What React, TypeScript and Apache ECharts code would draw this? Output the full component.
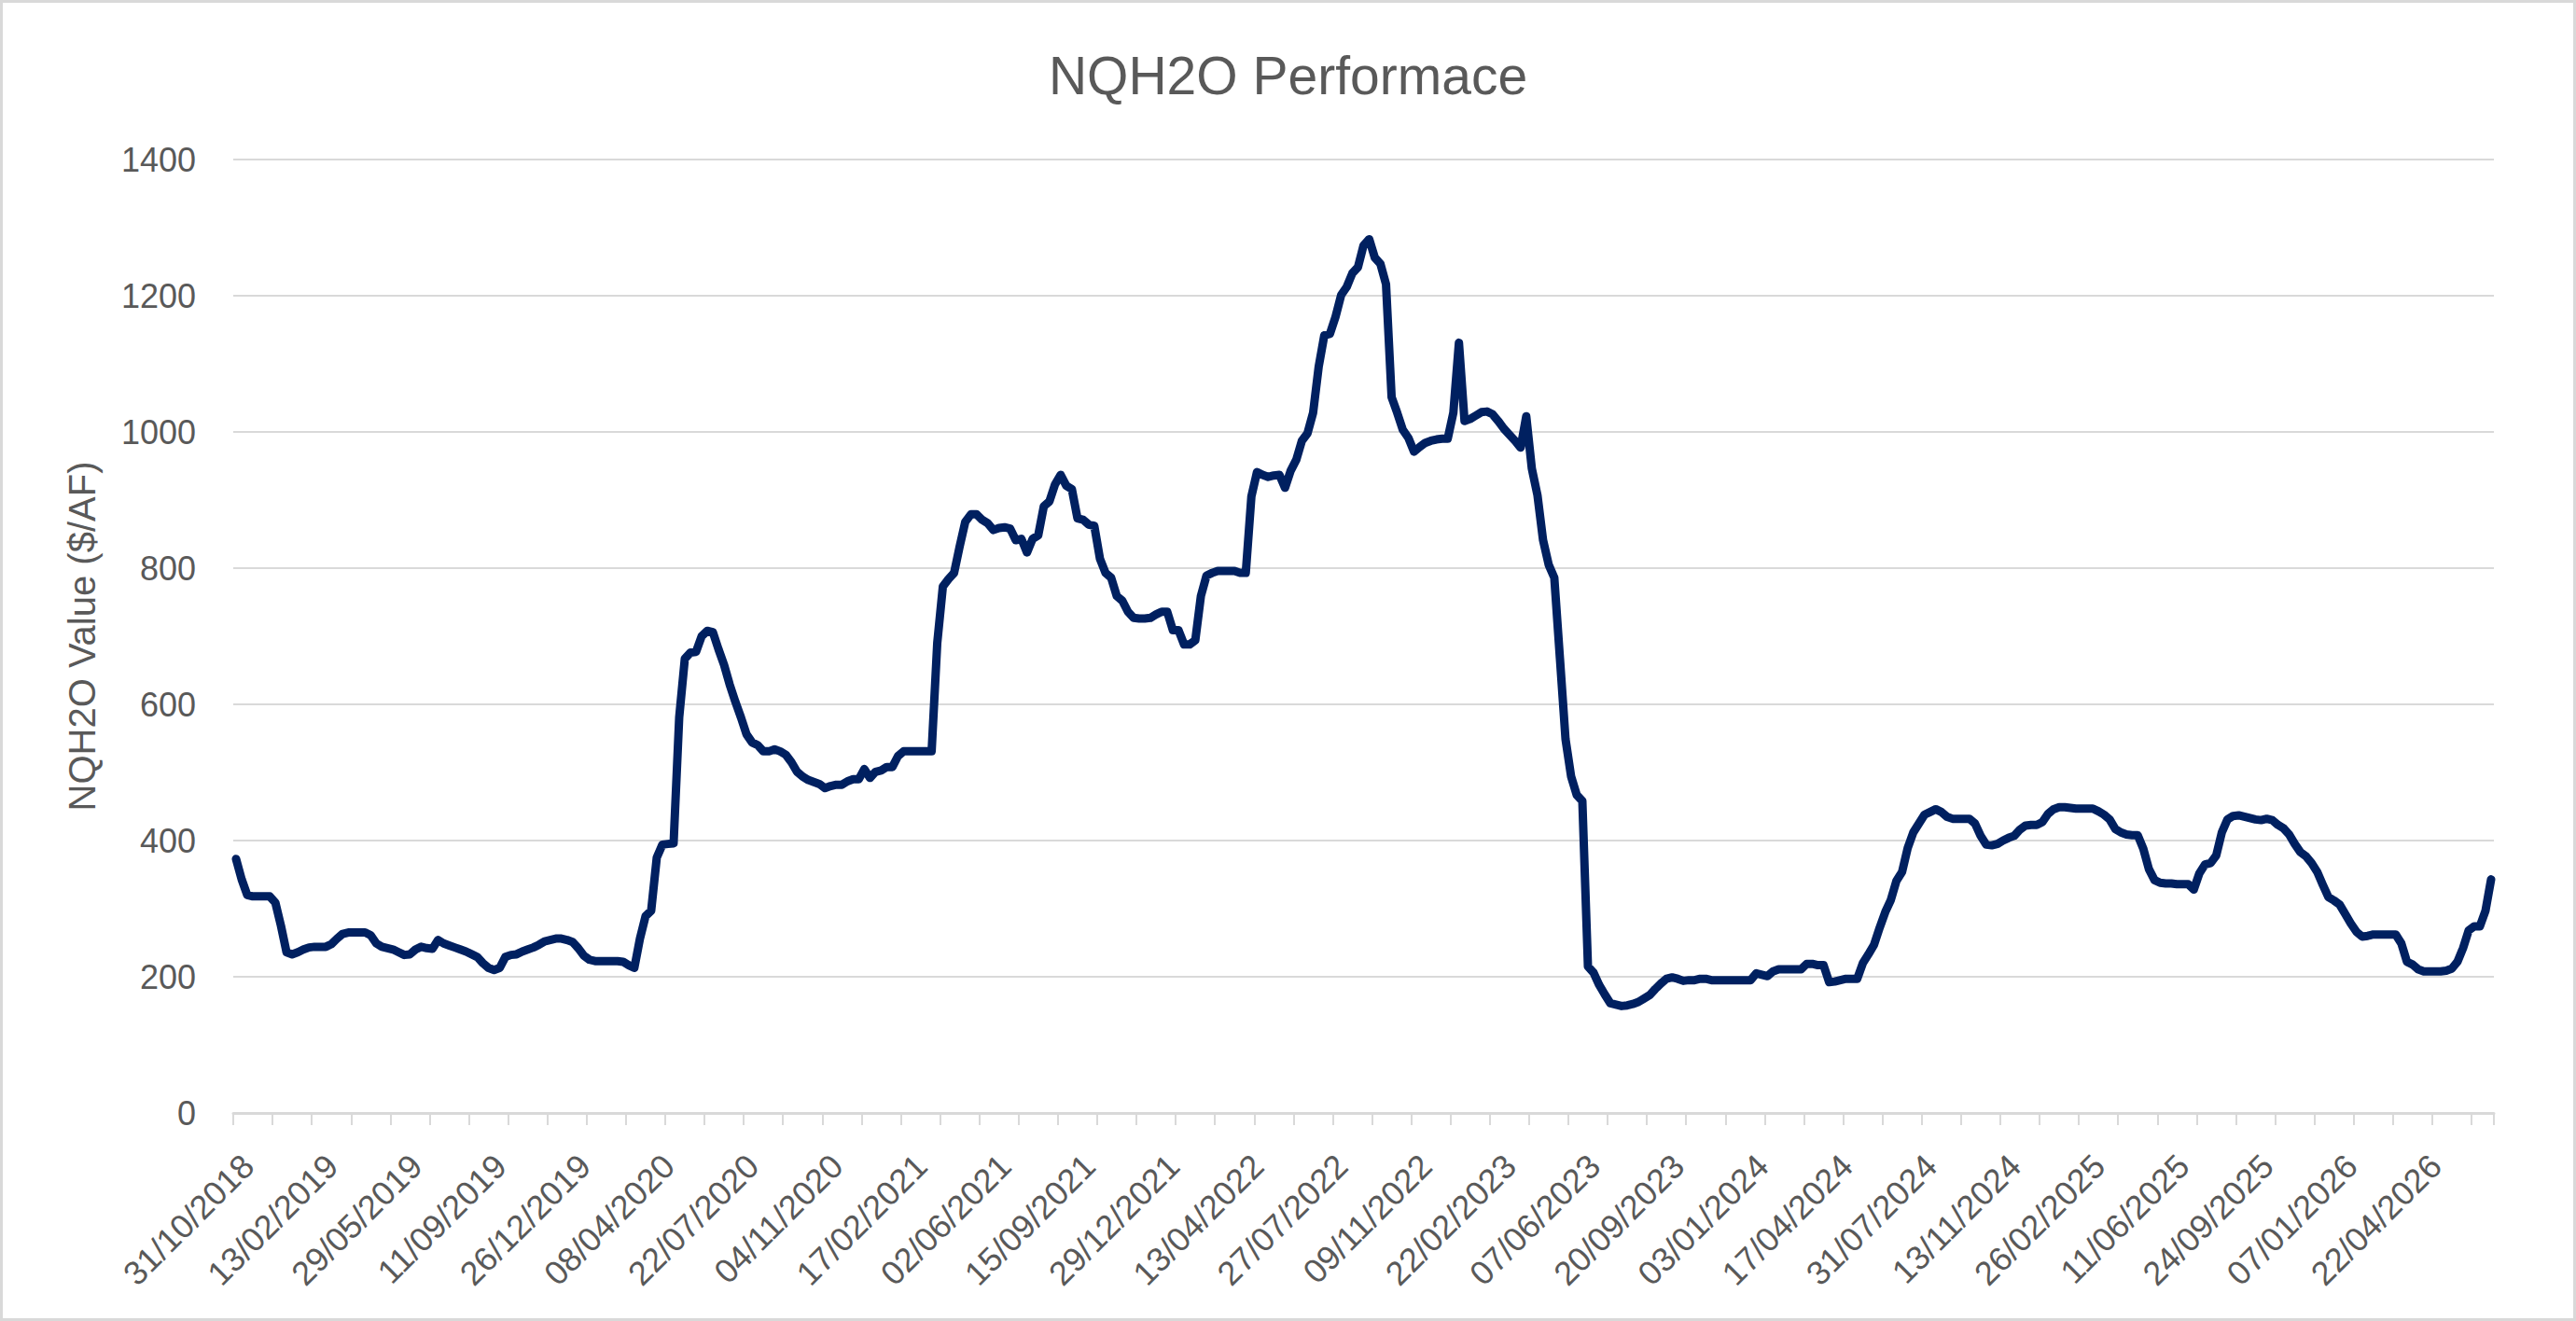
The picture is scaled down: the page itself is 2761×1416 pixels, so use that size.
import { useEffect, useRef } from "react";
import * as echarts from "echarts";

// ---- text ----
const TITLE = "NQH2O Performace";
const Y_NAME = "NQH2O Value ($/AF)";

// ---- category axis: weekly dates starting 31/10/2018 ----
const START_YEAR = 2018;
const START_MONTH = 10; // October
const START_DAY = 31;
const WEEK_COUNT = 403;
const LABEL_EVERY = 15; // one date label every 15 weeks
const TICK_EVERY = 7; // one tick mark every 7 weeks

// ---- value axis ----
const Y_MIN = 0;
const Y_MAX = 1400;
const Y_STEP = 200;

// ---- series values ($/AF), one per week ----
const values2018_2019 = [
  373, 343, 320, 318, 318, 318, 318, 309, 275, 236,
  233, 236, 240, 243, 244, 244, 244, 248, 256, 263,
  265, 265, 265, 265, 261, 249, 244, 242, 240, 236,
  232, 233, 240, 244, 242, 241, 254, 249, 246, 243,
  240, 237, 233, 229, 220, 213, 210, 213, 229, 232,
];
const values2019_2020 = [
  233, 237, 240, 243, 247, 252, 254, 256, 256, 254,
  251, 242, 231, 225, 223, 223, 223, 223, 223, 222,
  217, 213, 256, 289, 297, 375, 394, 395, 396, 581,
  667, 676, 677, 700, 708, 706, 681, 658, 629, 604,
  581, 556, 544, 540, 531, 531, 534, 531, 526, 515,
];
const values2020_2021 = [
  501, 494, 489, 486, 483, 477, 480, 482, 482, 487,
  490, 490, 505, 492, 501, 503, 508, 508, 524, 531,
  531, 531, 531, 531, 531, 690, 773, 784, 793, 832,
  868, 879, 879, 871, 866, 856, 859, 860, 858, 841,
  843, 823, 843, 848, 891, 898, 923, 937, 921, 916,
];
const values2021_2022 = [
  873, 871, 864, 862, 814, 793, 786, 759, 752, 736,
  727, 726, 726, 727, 732, 736, 736, 709, 709, 688,
  688, 694, 759, 789, 793, 796, 796, 796, 796, 793,
  793, 905, 941, 937, 934, 936, 937, 918, 943, 959,
  987, 998, 1028, 1096, 1142, 1144, 1169, 1201, 1213, 1233,
];
const values2022_2023 = [
  1242, 1274, 1283, 1256, 1247, 1217, 1051, 1028, 1003, 991,
  971, 978, 984, 987, 989, 990, 990, 1028, 1131, 1016,
  1019, 1024, 1029, 1030, 1026, 1016, 1005, 996, 987, 977,
  1023, 946, 907, 841, 805, 786, 668, 549, 494, 467,
  458, 215, 206, 188, 174, 161, 159, 157, 158, 160,
];
const values2023_2024 = [
  163, 168, 173, 182, 190, 197, 199, 197, 194, 195,
  195, 197, 197, 195, 195, 195, 195, 195, 195, 195,
  195, 205, 203, 201, 208, 211, 211, 211, 211, 211,
  219, 219, 217, 217, 192, 193, 195, 197, 197, 197,
  220, 233, 247, 272, 295, 313, 341, 354, 389, 412,
];
const values2024_2025 = [
  425, 438, 442, 446, 442, 435, 432, 432, 432, 432,
  425, 407, 394, 393, 395, 400, 404, 407, 416, 422,
  423, 423, 427, 439, 446, 449, 449, 448, 447, 447,
  447, 447, 443, 438, 431, 417, 412, 409, 408, 408,
  388, 358, 342, 338, 337, 337, 336, 336, 336, 328,
];
const values2025_2026 = [
  352, 365, 367, 378, 412, 431, 436, 437, 435, 433,
  431, 430, 432, 430, 423, 418, 409, 395, 383, 377,
  367, 354, 335, 317, 312, 306, 292, 278, 266, 259,
  260, 262, 262, 262, 262, 262, 249, 222, 218, 211,
  208, 208, 208, 208, 209, 212, 222, 242, 268, 274,
  274, 297, 343,
];

const VALUES = [
  ...values2018_2019,
  ...values2019_2020,
  ...values2020_2021,
  ...values2021_2022,
  ...values2022_2023,
  ...values2023_2024,
  ...values2024_2025,
  ...values2025_2026,
];

// ---- styling ----
const FONT = "'Liberation Sans', Arial, sans-serif";
const TEXT_COLOR = "#595959";
const GRID_COLOR = "#d9d9d9";
const LINE_COLOR = "#002060";

const pad = (n: number) => (n < 10 ? "0" + n : String(n));

function buildDates(): string[] {
  const out: string[] = [];
  const t0 = Date.UTC(START_YEAR, START_MONTH - 1, START_DAY);
  for (let i = 0; i < WEEK_COUNT; i++) {
    const d = new Date(t0 + i * 7 * 86400000);
    let day = d.getUTCDate();
    const month = d.getUTCMonth() + 1;
    // Christmas-day publications are shifted to the following day
    if (day === 25 && month === 12) day = 26;
    out.push(pad(day) + "/" + pad(month) + "/" + d.getUTCFullYear());
  }
  return out;
}

const W = 2761;
const H = 1416;

export default function App() {
  const ref = useRef<HTMLDivElement>(null);

  useEffect(() => {
    if (!ref.current) return;
    const chart = echarts.init(ref.current, undefined, { renderer: "svg" });
    const dates = buildDates();

    chart.setOption({
      animation: false,
      backgroundColor: "#ffffff",
      textStyle: { fontFamily: FONT },
      title: {
        text: TITLE,
        left: "center",
        top: 47,
        textStyle: {
          fontFamily: FONT,
          fontSize: 57,
          fontWeight: "normal",
          color: TEXT_COLOR,
        },
      },
      graphic: [
        {
          type: "rect",
          shape: { x: 1.5, y: 1.5, width: W - 3, height: H - 3 },
          style: { fill: "none", stroke: GRID_COLOR, lineWidth: 3 },
          silent: true,
        },
      ],
      grid: { left: 250, right: 88, top: 171, bottom: 223, containLabel: false },
      xAxis: {
        type: "category",
        data: dates,
        boundaryGap: true,
        axisLine: { show: true, lineStyle: { color: GRID_COLOR, width: 3 } },
        axisTick: {
          show: true,
          interval: TICK_EVERY - 1,
          length: 13,
          lineStyle: { color: GRID_COLOR, width: 2 },
        },
        axisLabel: {
          interval: LABEL_EVERY - 1,
          rotate: 45,
          margin: 38,
          verticalAlign: "top",
          fontFamily: FONT,
          fontSize: 36,
          color: TEXT_COLOR,
        },
        splitLine: { show: false },
      },
      yAxis: {
        type: "value",
        min: Y_MIN,
        max: Y_MAX,
        interval: Y_STEP,
        name: Y_NAME,
        nameLocation: "middle",
        nameGap: 142,
        nameRotate: 90,
        nameTextStyle: { fontFamily: FONT, fontSize: 40, color: TEXT_COLOR },
        axisLine: { show: false },
        axisTick: { show: false },
        axisLabel: {
          margin: 40,
          fontFamily: FONT,
          fontSize: 36,
          color: TEXT_COLOR,
          formatter: (v: number) => String(v),
        },
        splitLine: { show: true, lineStyle: { color: GRID_COLOR, width: 2 } },
      },
      series: [
        {
          type: "line",
          data: VALUES,
          showSymbol: false,
          symbol: "none",
          smooth: false,
          lineStyle: { color: LINE_COLOR, width: 9, join: "round", cap: "round" },
          itemStyle: { color: LINE_COLOR },
        },
      ],
    });

    return () => chart.dispose();
  }, []);

  return (
    <div
      ref={ref}
      style={{ position: "absolute", left: 0, top: 0, width: W, height: H, background: "#fff" }}
    />
  );
}
